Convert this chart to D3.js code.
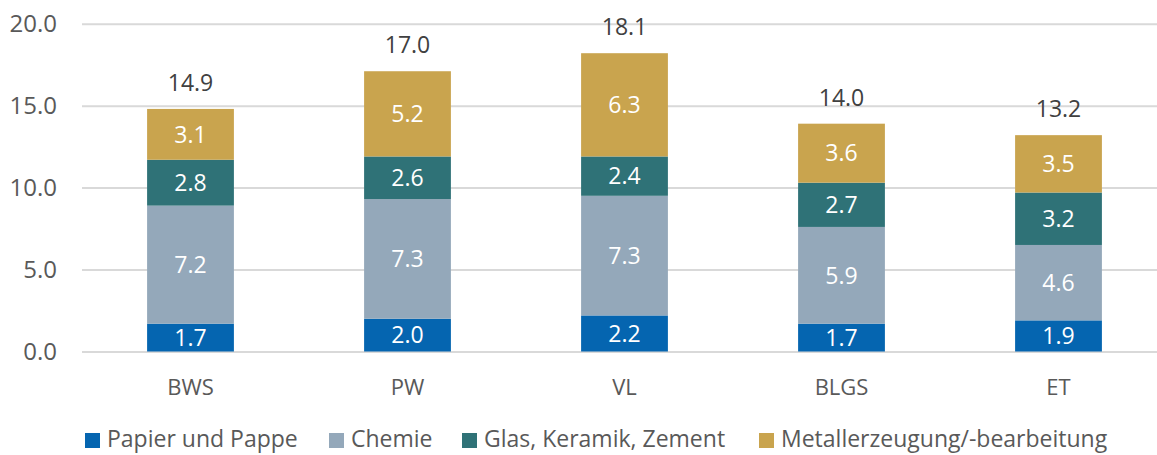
<!DOCTYPE html>
<html><head><meta charset="utf-8">
<script src="https://cdn.jsdelivr.net/npm/d3@7"></script>
<style>body{margin:0;background:#fff}svg{display:block;font-family:"Open Sans",sans-serif}</style>
</head><body><svg id="c" width="1157" height="455"></svg>
<script>
const categories = ["BWS", "PW", "VL", "BLGS", "ET"];
const seriesNames = ["Papier und Pappe", "Chemie", "Glas, Keramik, Zement", "Metallerzeugung/-bearbeitung"];
const papier = [1.7, 2.0, 2.2, 1.7, 1.9];
const chemie = [7.2, 7.3, 7.3, 5.9, 4.6];
const glas = [2.8, 2.6, 2.4, 2.7, 3.2];
const metall = [3.1, 5.2, 6.3, 3.6, 3.5];
const totals = [14.9, 17.0, 18.1, 14.0, 13.2];
const yTicks = [0, 5, 10, 15, 20];
const colors = ["#0565B0", "#94A8BA", "#2F7277", "#C9A44E"];

const svg = d3.select("#c");
const x = d3.scaleBand().domain(categories).range([82, 1167]).paddingInner(0.6).paddingOuter(0.3);
const y = d3.scaleLinear().domain([0, 20]).range([351.5, 23.7]);

const rows = categories.map((c, i) => ({cat: c, s0: papier[i], s1: chemie[i], s2: glas[i], s3: metall[i]}));
const stack = d3.stack().keys(["s0", "s1", "s2", "s3"])(rows);

// gridlines + y labels
const yAxis = d3.axisLeft(y).tickValues(yTicks).tickFormat(d3.format(".1f")).tickSize(-(1167 - 82)).tickPadding(25);
const ga = svg.append("g").attr("transform", "translate(82,0)").call(yAxis);
ga.select(".domain").remove();
ga.selectAll(".tick line").attr("stroke", "#D9D9D9").attr("stroke-width", 2);
ga.selectAll(".tick text").attr("fill", "#595959").style("font-size", "24px").style("font-family", "Open Sans");

// bars
stack.forEach((layer, k) => {
  const g = svg.append("g");
  g.selectAll("rect").data(layer).join("rect")
    .attr("x", d => x(d.data.cat))
    .attr("width", x.bandwidth())
    .attr("y", d => y(d[1]))
    .attr("height", d => y(d[0]) - y(d[1]))
    .attr("fill", colors[k]);
  g.selectAll("text").data(layer).join("text")
    .attr("x", d => x(d.data.cat) + x.bandwidth() / 2)
    .attr("y", d => (y(d[0]) + y(d[1])) / 2)
    .attr("dy", "0.36em")
    .attr("text-anchor", "middle")
    .attr("fill", "#fff")
    .style("font-size", "23px")
    .text(d => (d[1] - d[0]).toFixed(1));
});

// totals
svg.append("g").selectAll("text").data(categories).join("text")
  .attr("x", c => x(c) + x.bandwidth() / 2)
  .attr("y", (c, i) => y(d3.sum([papier[i], chemie[i], glas[i], metall[i]])) - 18)
  .attr("text-anchor", "middle")
  .attr("fill", "#404040")
  .style("font-size", "23px")
  .text((c, i) => totals[i].toFixed(1));

// x axis labels
const xAxis = d3.axisBottom(x).tickSize(0).tickPadding(28);
const gx = svg.append("g").attr("transform", "translate(0,351.5)").call(xAxis);
gx.select(".domain").remove();
gx.selectAll(".tick text").attr("fill", "#595959").style("font-size", "22px").style("font-family", "Open Sans");

// legend
const legX = [85, 329, 462, 759];
const lg = svg.append("g").selectAll("g").data(seriesNames).join("g")
  .attr("transform", (d, i) => `translate(${legX[i]},433)`);
lg.append("rect").attr("width", 15).attr("height", 15).attr("fill", (d, i) => colors[i]);
lg.append("text").attr("x", 22).attr("y", 14)
  .attr("fill", "#595959").style("font-size", "23px").text(d => d);
</script></body></html>
